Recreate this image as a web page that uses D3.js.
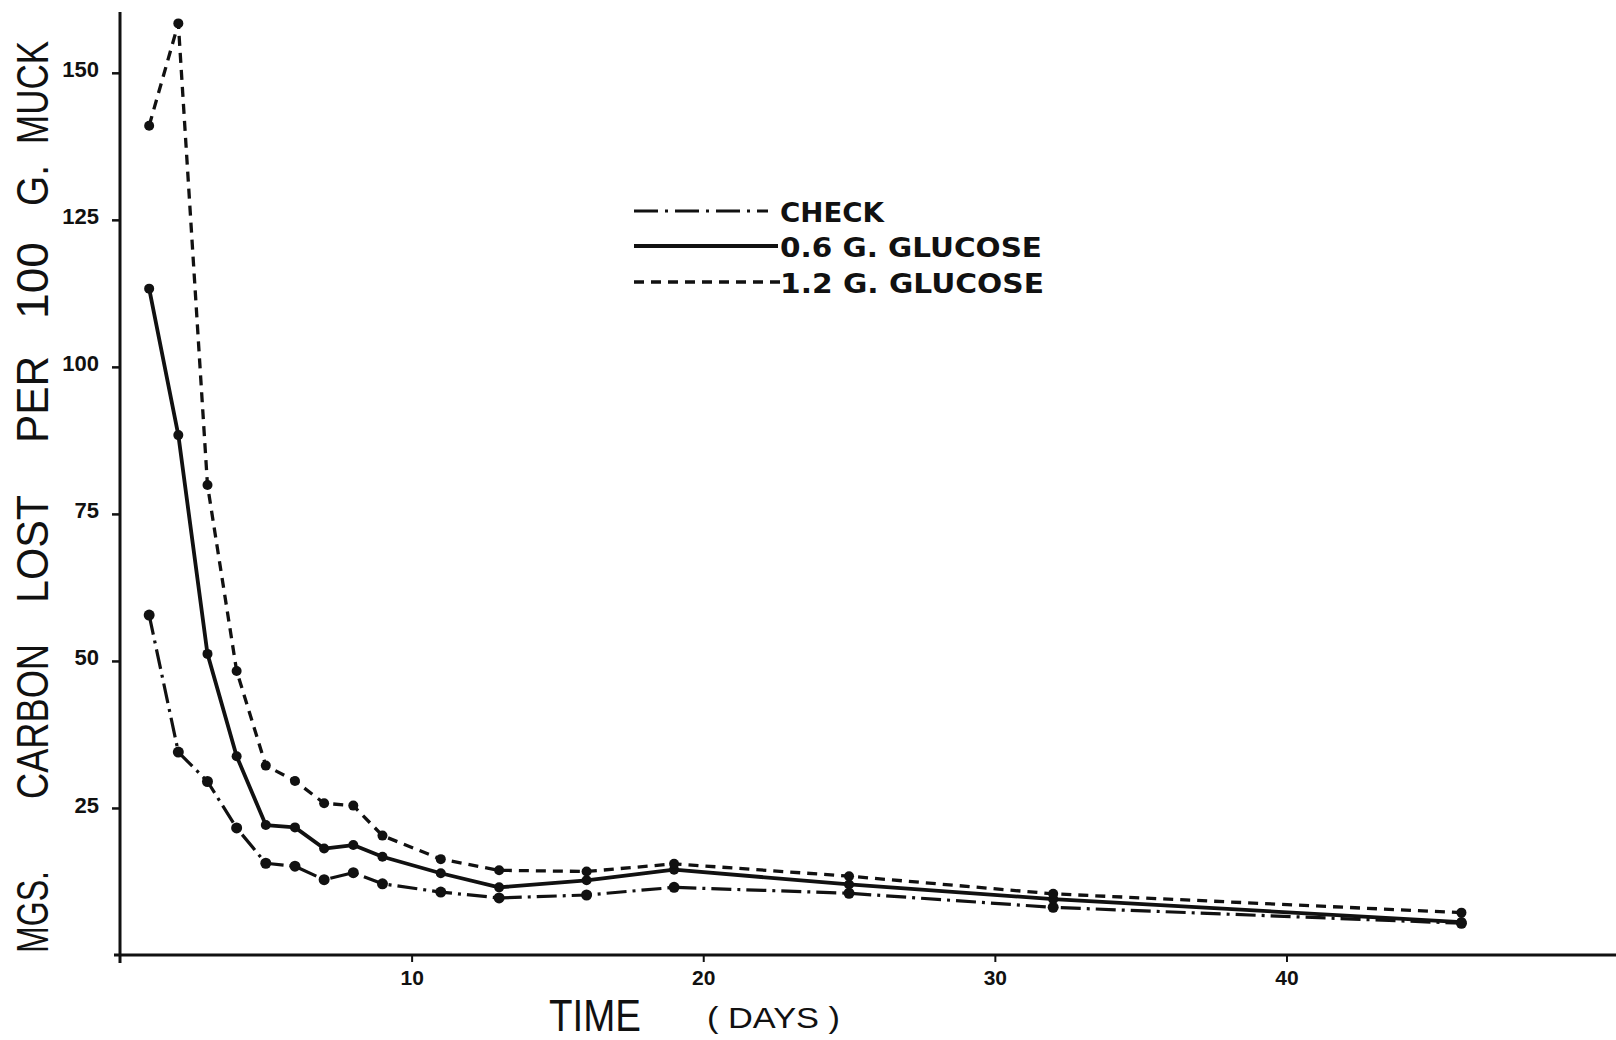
<!DOCTYPE html>
<html>
<head>
<meta charset="utf-8">
<script src="https://cdn.jsdelivr.net/npm/d3@7"></script>
<style>
  body { margin: 0; background: #ffffff; }
</style>
</head>
<body>
<script>
// values
const days = [1, 2, 3, 4, 5, 6, 7, 8, 9, 11, 13, 16, 19, 25, 32, 46];
const check = [57.8, 34.5, 29.5, 21.6, 15.6, 15.1, 12.8, 14.0, 12.1, 10.7, 9.7, 10.2, 11.5, 10.5, 8.1, 5.4];
const glucose06 = [113.3, 88.4, 51.2, 33.8, 22.1, 21.7, 18.1, 18.7, 16.7, 13.9, 11.5, 12.7, 14.5, 12.0, 9.5, 5.6];
const glucose12 = [141.0, 158.4, 79.9, 48.3, 32.2, 29.6, 25.8, 25.4, 20.3, 16.3, 14.4, 14.2, 15.5, 13.4, 10.4, 7.2];

const seriesNames = ["CHECK", "0.6  G. GLUCOSE", "1.2  G. GLUCOSE"];
const yTicks = [25, 50, 75, 100, 125, 150];
const xTicks = [10, 20, 30, 40];

const width = 1616;
const height = 1040;

const svg = d3.select("body").append("svg")
  .attr("width", width)
  .attr("height", height)
  .style("background", "#ffffff");

const x = d3.scaleLinear().domain([0, 51.3]).range([120, 1616]);
const y = d3.scaleLinear().domain([0, 160]).range([955, 14]);

const ink = "#111111";
const styles = [
  { dash: "20,6,3,6", width: 3.2 },
  { dash: null, width: 3.8 },
  { dash: "10,7", width: 3.3 }
];

// axis lines
svg.append("line")
  .attr("x1", x(0)).attr("x2", x(0))
  .attr("y1", y(160) - 2).attr("y2", y(0) + 8)
  .attr("stroke", ink).attr("stroke-width", 3);

svg.append("line")
  .attr("x1", x(0) - 6).attr("x2", width)
  .attr("y1", y(0)).attr("y2", y(0))
  .attr("stroke", ink).attr("stroke-width", 3);

const yAxis = d3.axisLeft(y)
  .tickValues(yTicks)
  .tickSize(8)
  .tickPadding(13)
  .tickFormat(d => d);

svg.append("g")
  .attr("transform", `translate(${x(0)},0)`)
  .call(yAxis)
  .call(g => g.select(".domain").remove())
  .call(g => g.selectAll("line").attr("stroke", ink).attr("stroke-width", 2.5))
  .call(g => g.selectAll("text")
    .attr("y", -3)
    .attr("fill", ink)
    .style("font-family", "'Liberation Sans', Arial, sans-serif")
    .style("font-weight", "bold")
    .style("font-size", "22px"));

const xAxis = d3.axisBottom(x)
  .tickValues(xTicks)
  .tickSize(7)
  .tickPadding(8)
  .tickFormat(d => d);

svg.append("g")
  .attr("transform", `translate(0,${y(0)})`)
  .call(xAxis)
  .call(g => g.select(".domain").remove())
  .call(g => g.selectAll("line").attr("stroke", ink).attr("stroke-width", 2))
  .call(g => g.selectAll("text")
    .attr("fill", ink)
    .style("font-family", "'Liberation Sans', Arial, sans-serif")
    .style("font-weight", "bold")
    .style("font-size", "21px"));

// series
const seriesValues = [check, glucose06, glucose12];
const line = d3.line()
  .x(d => x(d.day))
  .y(d => y(d.v));

seriesValues.forEach((vals, i) => {
  const pts = days.map((d, k) => ({ day: d, v: vals[k] }));
  const st = styles[i];
  const path = svg.append("path")
    .datum(pts)
    .attr("d", line)
    .attr("fill", "none")
    .attr("stroke", ink)
    .attr("stroke-width", st.width)
    .attr("stroke-linejoin", "round");
  if (st.dash) path.attr("stroke-dasharray", st.dash);

  svg.append("g").selectAll("circle")
    .data(pts)
    .join("circle")
    .attr("cx", d => x(d.day))
    .attr("cy", d => y(d.v))
    .attr("r", i === 0 ? 5.5 : 5)
    .attr("fill", ink);
});

// legend
const legendX0 = 634;
const legendRows = [211, 246, 282];
const legendEnds = [768, 778, 780];
const legendTextW = [104, 262, 264];

seriesNames.forEach((name, i) => {
  const st = styles[i];
  const ln = svg.append("line")
    .attr("x1", legendX0).attr("x2", legendEnds[i])
    .attr("y1", legendRows[i]).attr("y2", legendRows[i])
    .attr("stroke", ink)
    .attr("stroke-width", st.width);
  if (st.dash) ln.attr("stroke-dasharray", i === 0 ? "24,7,3,7" : st.dash);

  svg.append("text")
    .attr("x", 780)
    .attr("y", legendRows[i] + 11)
    .attr("fill", ink)
    .attr("textLength", legendTextW[i])
    .attr("lengthAdjust", "spacingAndGlyphs")
    .style("font-family", "'DejaVu Sans', sans-serif")
    .style("font-weight", "bold")
    .style("font-size", "27px")
    .text(name);
});

// y axis title, word by word (rotated)
const yWords = ["MGS.", "CARBON", "LOST", "PER", "100", "G.", "MUCK"];
const yWordStart = [953, 799, 603, 443, 319, 206, 144];
const yWordLen = [82, 155, 108, 87, 77, 41, 103];

yWords.forEach((w, i) => {
  svg.append("text")
    .attr("transform", `translate(48,${yWordStart[i]}) rotate(-90)`)
    .attr("fill", ink)
    .attr("textLength", yWordLen[i])
    .attr("lengthAdjust", "spacingAndGlyphs")
    .style("font-family", "'Liberation Sans', Arial, sans-serif")
    .style("font-size", "45px")
    .text(w);
});

// x axis title
svg.append("text")
  .attr("x", 549)
  .attr("y", 1031)
  .attr("fill", ink)
  .attr("textLength", 92)
  .attr("lengthAdjust", "spacingAndGlyphs")
  .style("font-family", "'Liberation Sans Narrow', 'Liberation Sans', Arial, sans-serif")
  .style("font-size", "45px")
  .text("TIME");

svg.append("text")
  .attr("x", 707)
  .attr("y", 1028)
  .attr("fill", ink)
  .attr("textLength", 133)
  .attr("lengthAdjust", "spacingAndGlyphs")
  .style("font-family", "'Liberation Sans Narrow', 'Liberation Sans', Arial, sans-serif")
  .style("font-size", "30px")
  .text("( DAYS )");
</script>
</body>
</html>
